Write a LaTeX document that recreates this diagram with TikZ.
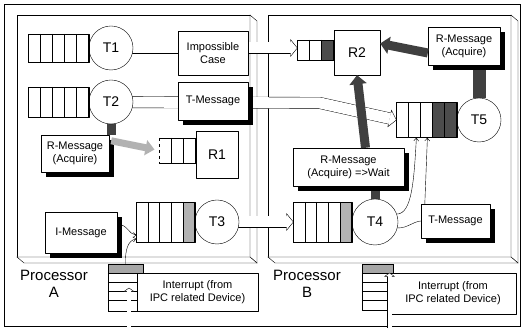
\documentclass[tikz,border=0pt]{standalone}
\usepackage{fontspec}
\setmainfont{Liberation Sans}
\usetikzlibrary{positioning,calc,arrows.meta}

\pgfdeclarelayer{back}
\pgfdeclarelayer{bands}
\pgfsetlayers{back,bands,main}

\tikzset{
  task/.style={circle, draw, fill=white, minimum size=44pt, inner sep=0pt,
               font=\fontsize{14}{16}\selectfont},
  queue/.style={draw, fill=white, inner sep=0pt},
  res/.style={draw, fill=white, inner sep=0pt, font=\fontsize{14}{16}\selectfont},
  msg/.style={draw, fill=white, inner sep=0pt, align=center,
              font=\fontsize{11}{13}\selectfont},
  busy/.style={fill=black!#1},
  band/.style={draw, double=white, double distance=11pt},
  thinband/.style={draw, double=white, double distance=4pt},
  link/.style={draw=black!75, line width=#1},
  link/.default=9pt,
  darkarrow/.style={draw=black!75, line width=9pt,
                    -{Triangle[width=17pt,length=9pt]}},
  lightarrow/.style={draw=black!30, line width=7pt,
                     -{Triangle[width=15pt,length=9pt]}},
  flow/.style={draw, -{Straight Barb[length=3pt,width=5pt]}},
}

% cells of a queue node: name, cells, busy cells at the head, cell width, shade
\newcommand\cells[5]{%
  \fill[busy=#5] ($(#1.north east)+(-#3*#4,0)$) rectangle (#1.south east);
  \foreach \i in {1,...,#2}
    \draw ($(#1.north west)+(\i*#4,0)$) -- ($(#1.south west)+(\i*#4,0)$);
  \draw (#1.north west) rectangle (#1.south east);
}

% black shadow of a message box, right and bottom
\newcommand\boxshadow[1]{%
  \path[fill=black] ([xshift=0pt,yshift=-5pt]#1.north east) rectangle ([xshift=5pt,yshift=-5pt]#1.south east);
  \path[fill=black] ([xshift=5pt,yshift=0pt]#1.south west) rectangle ([xshift=5pt,yshift=-5pt]#1.south east);
}

% open head of a band: tip, direction, half width of the band
\newcommand\bandhead[3]{%
  \filldraw[fill=white, shift={#1}, rotate=#2]
    (-#3-1,#3) -- (-#3-1,#3+2.5) -- (0,0) -- (-#3-1,-#3-2.5) -- (-#3-1,-#3);
}

\begin{document}
\begin{tikzpicture}[x=1pt, y=-1pt, line width=0.8pt, line join=round]
  \useasboundingbox (0,0) rectangle (522,328);

  \begin{pgfonlayer}{back}
    \draw (4,4) rectangle (520,326);
    % the two processor slabs
    \foreach \xa/\xb in {17/250, 268/511} {
      \draw[fill=white] (\xa,15) rectangle (\xb,257);
      \draw[fill=white] (\xb,15) -- (\xb+7,21) -- (\xb+7,263) -- (\xb,257) -- cycle;
      \draw[fill=white] (\xa,257) -- (\xb,257) -- (\xb+7,263) -- (\xa+7,263) -- cycle;
    }
  \end{pgfonlayer}

  % tasks and their queues
  \node[task] (T1) at (111,48) {T1};
  \node[task] (T2) at (111,102) {T2};
  \node[task] (T3) at (217,222) {T3};
  \node[task, minimum size=46pt] (T4) at (375,222) {T4};
  \node[task] (T5) at (479,120) {T5};

  \node[queue, minimum width=60pt, minimum height=28pt, left=0pt of T1] (q1) {};
  \node[queue, minimum width=60pt, minimum height=30pt, left=0pt of T2] (q2) {};
  \node[queue, minimum width=58pt, minimum height=40pt, left=0pt of T3] (q3) {};
  \node[queue, minimum width=58pt, minimum height=40pt, left=0pt of T4] (q4) {};
  \node[queue, minimum width=60pt, minimum height=35pt, left=0pt of T5] (q5) {};

  % resources
  \node[res, minimum width=42pt, minimum height=47pt] (R1) at (217,154.5) {R1};
  \node[res, minimum width=46pt, minimum height=45pt] (R2) at (357,52.5) {R2};
  \node[queue, minimum width=36pt, minimum height=25pt, anchor=east] (qR1)
    at ($(R1.west)+(0,-4)$) {};
  \node[queue, minimum width=36pt, minimum height=20pt, anchor=north east] (qR2)
    at ($(R2.north west)+(0,10)$) {};

  \cells{q1}{5}{0}{12}{60}
  \cells{q2}{5}{0}{12}{60}
  \cells{q3}{5}{1}{11.6}{30}
  \cells{q4}{5}{1}{11.6}{30}
  \cells{q5}{5}{2}{12}{70}
  \cells{qR1}{3}{0}{12}{60}
  \cells{qR2}{3}{1}{12}{70}
  \draw[white, line width=1.2pt] (qR1.north west) -- (qR1.south west);
  \draw[dashed] (qR1.north west) -- (qR1.south west);

  % messages
  \node[msg, minimum width=70pt, minimum height=44pt] (impC) at (213,53) {Impossible\\Case};
  \node[msg, minimum width=70pt, minimum height=38pt] (tmA) at (213,101) {T-Message};
  \boxshadow{tmA}
  \node[msg, minimum width=68pt, minimum height=37pt] (rmA) at (75,153.5) {R-Message\\(Acquire)};
  \boxshadow{rmA}
  \node[msg, minimum width=72pt, minimum height=41pt] (iMsg) at (81,232.5) {I-Message};
  \boxshadow{iMsg}
  \node[msg, minimum width=72pt, minimum height=38pt] (rmB) at (464,46) {R-Message\\(Acquire)};
  \boxshadow{rmB}
  \node[msg, minimum width=111pt, minimum height=38pt] (rmW) at (348.5,167) {R-Message\\(Acquire) =>Wait};
  \boxshadow{rmW}
  \node[msg, minimum width=69pt, minimum height=34pt] (tmB) at (455.5,221) {T-Message};
  \boxshadow{tmB}

  % interrupt registers
  \node[queue, minimum width=35pt, minimum height=47pt] (stA) at (125.5,287.5) {};
  \node[queue, minimum width=31pt, minimum height=46pt] (stB) at (377.5,287) {};
  \foreach \s in {stA, stB} {
    \fill[busy=35] (\s.north west) rectangle ($(\s.north east)+(0,9.2)$);
    \foreach \j in {1,...,4}
      \draw ($(\s.north west)+(0,\j*9.2)$) -- ($(\s.north east)+(0,\j*9.2)$);
    \draw (\s.north west) rectangle (\s.south east);
  }
  \node[msg, minimum width=121pt, minimum height=38pt] (intA) at (197.5,292) {Interrupt (from\\IPC related Device)};
  \node[msg, minimum width=126pt, minimum height=41pt] (intB) at (453,293.5) {Interrupt (from\\IPC related Device)};

  \node[font=\fontsize{15}{17}\selectfont, align=center] (labA) at (54,284) {Processor\\A};
  \node[font=\fontsize{15}{17}\selectfont, align=center] (labB) at (307,284) {Processor\\B};

  \begin{pgfonlayer}{bands}
    \draw[band, shorten >=6.9pt] (T1.center) -- (T1.center -| qR2.west);
    \bandhead{(T1.center -| qR2.west)}{0}{5.9}
    \draw[band, shorten >=6.9pt] (T2.center) -- (320,103) -- (q5.west);
    \bandhead{(q5.west)}{-12.5}{5.9}
    \draw[band, shorten >=6.9pt] (T3.center) -- (q4.west);
    \bandhead{(q4.west)}{0}{5.9}
    \draw[link] (T2.south) -- (T2.south |- rmA.north);
    \draw[link=13pt] (T5.north) -- (T5.north |- rmB.south);
    \draw[link] (T4.north) -- (T4.north |- rmW.south);
  \end{pgfonlayer}

  % acquire requests
  \draw[darkarrow] ($(rmB.west)+(0,7)$) -- ($(R2.east)+(0,-9)$);
  \draw[darkarrow] ($(rmW.north)+(17,0)$) -- (R2.south);
  \draw[lightarrow, shorten >=5pt] ($(rmA.north east)+(2,6)$) -- (qR1.west);

  % T4 to T5 and interrupt to T3
  \draw[flow] (T4.20) .. controls (412,214) and (414,180) .. ($(q5.south west)+(20,0)$);
  \draw (T4.-15) .. controls (408,228) and (412,222) .. (tmB.west);
  \draw[flow] ($(tmB.north west)+(4,0)$) -- ($(q5.south west)+(31,0)$);
  \draw[flow] ($(iMsg.east)+(0,-8)$) .. controls (128,224) and (129,235) .. ($(q3.west)+(0,13)$);
  \draw[flow] (stA.north) .. controls (125,250) and (128,240) .. ($(q3.west)+(0,17)$);

  % interrupt lines from the devices
  \coordinate (inA) at (129,330);
  \coordinate (tipA) at (129,288);
  \coordinate (inB) at (389.5,330);
  \coordinate (tipB) at (389.5,273);
  \draw[thinband, shorten >=3.4pt] (inA) -- (tipA);
  \bandhead{(tipA)}{90}{2.4}
  \draw[thinband, shorten >=3.4pt] (inB) -- (tipB);
  \bandhead{(tipB)}{90}{2.4}
\end{tikzpicture}
\end{document}
